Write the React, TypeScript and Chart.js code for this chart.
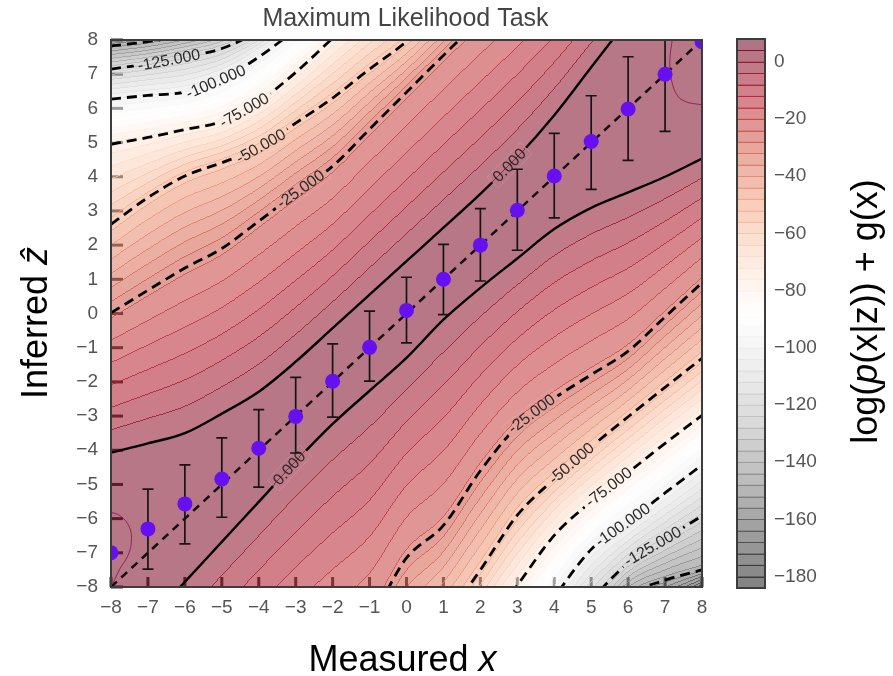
import React, { useEffect, useRef } from 'react';
import { Chart, registerables } from 'chart.js';

Chart.register(...registerables);

const FONT = '"Liberation Sans", Arial, Helvetica, sans-serif';

// ---------- text ----------
const chartTitle = 'Maximum Likelihood Task';
const xTitleParts = [{ t: 'Measured ' }, { t: 'x', it: true }];
const yTitleParts = [{ t: 'Inferred ' }, { t: '\u1E91', it: true }];
const cbTitleParts = [{ t: 'log(' }, { t: 'p', it: true }, { t: '(x|z)) + g(x)' }];

// ---------- axes ----------
const axisTicks = [-8, -7, -6, -5, -4, -3, -2, -1, 0, 1, 2, 3, 4, 5, 6, 7, 8];
const colorbarTicks = [0, -20, -40, -60, -80, -100, -120, -140, -160, -180];
const levelMin = -184;
const levelMax = 8;
const levelStep = 4;
const fillAlpha = 0.55;

// ---------- measurements ----------
const measuredX = [-8, -7, -6, -5, -4, -3, -2, -1, 0, 1, 2, 3, 4, 5, 6, 7, 8];
const inferredZ = [-7.0, -6.3, -5.57, -4.84, -3.94, -3.01, -1.98, -0.99, 0.09, 1.0, 2.0, 3.02, 4.02, 5.03, 5.98, 7.0, 7.95];
const inferredZLow = [null, -7.48, -6.74, -5.96, -5.08, -4.08, -3.03, -1.98, -0.86, -0.03, 0.95, 1.85, 2.8, 3.63, 4.48, 5.33, null];
const inferredZHigh = [null, -5.14, -4.43, -3.64, -2.81, -1.87, -0.89, 0.07, 1.06, 2.02, 3.07, 4.22, 5.27, 6.37, 7.51, 8.7, null];
const identityLine = [-8, 8];

// ---------- contour lines: z of each contour at xGrid ----------
const xGrid = [-8, -7, -6, -5, -4, -3, -2, -1, 0, 1, 2, 3, 4, 5, 6, 7, 8];
const zUpper150 = [7.83, 7.95, 8.15, 8.45, 9.0, 9.6, 10.3, 11.1, 11.9, 12.8, 13.7, 14.6, 15.5, 16.5, 17.5, 18.5, 19.5];
const zUpper125 = [7.15, 7.3, 7.5, 7.75, 8.25, 8.9, 9.6, 10.4, 11.2, 12.1, 13.0, 13.9, 14.8, 15.8, 16.8, 17.8, 18.8];
const zUpper100 = [6.27, 6.38, 6.48, 6.85, 7.5, 8.3, 9.1, 9.9, 10.7, 11.6, 12.5, 13.4, 14.3, 15.3, 16.3, 17.3, 18.3];
const zUpper75 = [4.95, 5.15, 5.38, 5.62, 6.2, 7.05, 8.05, 9.0, 9.9, 10.8, 11.7, 12.6, 13.5, 14.4, 15.3, 16.2, 17.1];
const zUpper50 = [2.61, 3.39, 4.02, 4.41, 4.85, 5.57, 6.3, 7.15, 7.95, 8.9, 9.8, 10.7, 11.6, 12.5, 13.4, 14.3, 15.2];
const zUpper25 = [0.02, 0.68, 1.33, 1.9, 2.7, 3.52, 4.31, 5.39, 6.47, 7.55, 8.6, 9.6, 10.6, 11.6, 12.5, 13.4, 14.3];
const zUpper0 = [-4.07, -3.8, -3.5, -2.93, -2.29, -1.41, -0.43, 0.55, 1.53, 2.51, 3.5, 4.57, 5.8, 7.2, 8.6, 10.0, 11.4];
const zLower0 = [-10.2, -9.0, -7.85, -6.68, -5.51, -4.33, -3.23, -2.26, -1.3, -0.18, 0.75, 1.61, 2.47, 3.09, 3.54, 4.0, 4.53];
const zLower25 = [-16.5, -15.3, -14.1, -12.9, -11.8, -10.8, -9.9, -8.95, -7.15, -6.2, -4.6, -3.3, -2.48, -1.79, -1.1, -0.1, 0.9];
const zLower50 = [-21.6, -20.2, -18.8, -17.4, -16.0, -14.6, -13.2, -11.8, -10.3, -9.0, -7.5, -5.9, -4.84, -3.9, -3.02, -2.16, -1.31];
const zLower75 = [-23.4, -22.0, -20.6, -19.2, -17.8, -16.4, -15.0, -13.6, -12.2, -10.8, -9.4, -7.95, -6.49, -5.5, -4.65, -3.8, -2.98];
const zLower100 = [-25.2, -23.8, -22.4, -21.0, -19.6, -18.2, -16.8, -15.4, -14.0, -12.6, -11.2, -9.8, -8.3, -6.9, -6.08, -5.25, -4.43];
const zLower125 = [-26.6, -25.2, -23.8, -22.4, -21.0, -19.6, -18.2, -16.8, -15.4, -14.0, -12.6, -11.2, -9.8, -8.4, -7.3, -6.6, -5.92];
const zLower150 = [-27.6, -26.2, -24.8, -23.4, -22.0, -20.6, -19.2, -17.8, -16.4, -15.0, -13.6, -12.2, -10.8, -9.4, -8.25, -7.8, -7.5];
const zLower175 = [-29.0, -27.6, -26.2, -24.8, -23.4, -22.0, -20.6, -19.2, -17.8, -16.4, -15.0, -13.6, -12.2, -10.8, -9.5, -8.7, -8.0];

// small closed level-4 contours in two corners
const peakTopRightX = [7.2, 7.13, 7.18, 7.35, 7.6, 7.9, 8.05];
const peakTopRightZ = [8.05, 7.4, 6.8, 6.35, 6.18, 6.12, 6.1];
const peakBottomLeftX = [-8.05, -7.75, -7.5, -7.45, -7.55, -7.75, -7.95];
const peakBottomLeftZ = [-5.8, -5.92, -6.25, -6.7, -7.1, -7.45, -7.9];

const contourLines = [
  { level: -150, z: zUpper150, drawn: true },
  { level: -125, z: zUpper125, drawn: true },
  { level: -100, z: zUpper100, drawn: true },
  { level: -75, z: zUpper75, drawn: true },
  { level: -50, z: zUpper50, drawn: true },
  { level: -25, z: zUpper25, drawn: true },
  { level: 0, z: zUpper0, drawn: true },
  { level: 0, z: zLower0, drawn: true },
  { level: -25, z: zLower25, drawn: true },
  { level: -50, z: zLower50, drawn: true },
  { level: -75, z: zLower75, drawn: true },
  { level: -100, z: zLower100, drawn: true },
  { level: -125, z: zLower125, drawn: true },
  { level: -150, z: zLower150, drawn: true },
  { level: -175, z: zLower175, drawn: false },
];
const contourLabelSpots = [
  { line: 1, x: -6.43 }, { line: 2, x: -5.16 }, { line: 3, x: -4.39 }, { line: 4, x: -3.94 },
  { line: 5, x: -2.86 }, { line: 6, x: 2.79 }, { line: 7, x: -3.17 }, { line: 8, x: 3.39 },
  { line: 9, x: 4.47 }, { line: 10, x: 5.48 }, { line: 11, x: 5.86 }, { line: 12, x: 6.67 },
];

// ---------- colormap (RdGy, reversed) ----------
const rdgy = [
  [103, 0, 31], [178, 24, 43], [214, 96, 77], [244, 165, 130], [253, 219, 199], [255, 255, 255],
  [224, 224, 224], [186, 186, 186], [135, 135, 135], [77, 77, 77], [26, 26, 26],
];
function rdgyAt(f: number) {
  f = Math.max(0, Math.min(1, f));
  const p = f * 10;
  const i = Math.min(9, Math.floor(p));
  const t = p - i;
  return rdgy[i].map((c, j) => c + (rdgy[i + 1][j] - c) * t);
}
function colorOfValue(v: number) {
  return rdgyAt(1 - (v - levelMin) / (levelMax - levelMin));
}
const nBands = Math.round((levelMax - levelMin) / levelStep);

// ---------- monotone cubic (same as Chart.js) ----------
function monotoneCurve(xs: number[], ys: number[]) {
  const n = xs.length;
  const d: number[] = [];
  const m: number[] = [];
  for (let i = 0; i < n - 1; i++) d.push((ys[i + 1] - ys[i]) / (xs[i + 1] - xs[i]));
  for (let i = 0; i < n; i++) {
    if (i === 0) m.push(d[0]);
    else if (i === n - 1) m.push(d[n - 2]);
    else m.push(Math.sign(d[i - 1]) !== Math.sign(d[i]) ? 0 : (d[i - 1] + d[i]) / 2);
  }
  for (let i = 0; i < n - 1; i++) {
    if (Math.abs(d[i]) < 1e-9) { m[i] = 0; m[i + 1] = 0; continue; }
    const a = m[i] / d[i];
    const b = m[i + 1] / d[i];
    const s = a * a + b * b;
    if (s <= 9) continue;
    const tau = 3 / Math.sqrt(s);
    m[i] = a * tau * d[i];
    m[i + 1] = b * tau * d[i];
  }
  return (x: number) => {
    let i = 0;
    if (x >= xs[n - 1]) i = n - 2;
    else if (x > xs[0]) { while (x > xs[i + 1]) i++; }
    const h = xs[i + 1] - xs[i];
    const t = (x - xs[i]) / h;
    const t2 = t * t, t3 = t2 * t;
    return (2 * t3 - 3 * t2 + 1) * ys[i] + (t3 - 2 * t2 + t) * h * m[i] + (-2 * t3 + 3 * t2) * ys[i + 1] + (t3 - t2) * h * m[i + 1];
  };
}
const curves = contourLines.map((l) => monotoneCurve(xGrid, l.z));

function fmtTick(v: number | string) {
  const n = Number(v);
  return n < 0 ? '\u2212' + Math.abs(n) : String(n);
}

function buildField(chart: any) {
  const a = chart.chartArea;
  const w = Math.round(a.right - a.left);
  const h = Math.round(a.bottom - a.top);
  const xs = chart.scales.x, ys = chart.scales.y;
  const nL = contourLines.length;
  const lev = contourLines.map((l) => l.level);
  const colY = new Float64Array(nL);
  const band = new Int16Array(w * h);
  const yVals = new Float64Array(h);
  for (let j = 0; j < h; j++) yVals[j] = ys.getValueForPixel(a.top + j + 0.5);
  for (let i = 0; i < w; i++) {
    const xv = xs.getValueForPixel(a.left + i + 0.5);
    for (let k = 0; k < nL; k++) colY[k] = curves[k](xv);
    for (let j = 0; j < h; j++) {
      const yv = yVals[j];
      let v: number;
      if (yv >= colY[0]) {
        v = lev[0] + (lev[0] - lev[1]) * (yv - colY[0]) / Math.max(0.05, colY[0] - colY[1]);
      } else if (yv <= colY[nL - 1]) {
        v = lev[nL - 1] + (lev[nL - 1] - lev[nL - 2]) * (colY[nL - 1] - yv) / Math.max(0.05, colY[nL - 2] - colY[nL - 1]);
      } else {
        let k = 0;
        while (k < nL - 2 && yv < colY[k + 1]) k++;
        const dy = colY[k] - colY[k + 1];
        v = dy > 1e-9 ? lev[k] + (lev[k + 1] - lev[k]) * (colY[k] - yv) / dy : lev[k];
      }
      v = Math.max(levelMin, Math.min(levelMax, v));
      band[j * w + i] = Math.min(nBands - 1, Math.max(0, Math.floor((v - levelMin) / levelStep)));
    }
  }
  const bandCol = [];
  for (let b = 0; b < nBands; b++) bandCol.push(colorOfValue(levelMin + (b + 0.5) * levelStep));
  const edgeCol = [];
  for (let e = 0; e <= nBands; e++) edgeCol.push(colorOfValue(levelMin + e * levelStep));
  const cv = document.createElement('canvas');
  cv.width = w; cv.height = h;
  const c2 = cv.getContext('2d')!;
  const img = c2.createImageData(w, h);
  const data = img.data;
  const fillA = Math.round(fillAlpha * 255);
  for (let j = 0; j < h; j++) {
    for (let i = 0; i < w; i++) {
      const idx = j * w + i;
      const b = band[idx];
      let line = -1;
      if (i + 1 < w && band[idx + 1] !== b) line = Math.max(b, band[idx + 1]);
      if (j + 1 < h && band[idx + w] !== b) line = Math.max(line, b, band[idx + w]);
      const col = line >= 0 ? edgeCol[line] : bandCol[b];
      const o = idx * 4;
      data[o] = col[0]; data[o + 1] = col[1]; data[o + 2] = col[2];
      data[o + 3] = line >= 0 ? 225 : fillA;
    }
  }
  c2.putImageData(img, 0, 0);
  return cv;
}

function drawMixed(ctx: CanvasRenderingContext2D, parts: { t: string; it?: boolean }[], size: number, cx: number, baseY: number, color: string) {
  const fonts = parts.map((p) => `${p.it ? 'italic ' : ''}${size}px ${FONT}`);
  let total = 0;
  const widths = parts.map((p, i) => { ctx.font = fonts[i]; const w = ctx.measureText(p.t).width; total += w; return w; });
  let x = cx - total / 2;
  ctx.textAlign = 'left';
  ctx.textBaseline = 'alphabetic';
  ctx.fillStyle = color;
  parts.forEach((p, i) => { ctx.font = fonts[i]; ctx.fillText(p.t, x, baseY); x += widths[i]; });
}

const mainPlugin = {
  id: 'mainDecor',
  beforeDatasetsDraw(chart: any) {
    const ctx = chart.ctx;
    const a = chart.chartArea;
    ctx.save();
    ctx.fillStyle = '#ffffff';
    ctx.fillRect(a.left, a.top, a.right - a.left, a.bottom - a.top);
    ctx.fillStyle = '#333333';
    axisTicks.forEach((v) => {
      const px = chart.scales.x.getPixelForValue(v);
      ctx.fillRect(px - 1.5, a.bottom - 10, 3, 10);
      const py = chart.scales.y.getPixelForValue(v);
      ctx.fillRect(a.left, py - 1.5, 12, 3);
    });
    if (!chart.$field) chart.$field = buildField(chart);
    ctx.drawImage(chart.$field, a.left, a.top);
    ctx.restore();
  },
  beforeDatasetDraw(chart: any, args: any) {
    const ds = chart.data.datasets[args.index];
    const ctx = chart.ctx;
    const a = chart.chartArea;
    const xs = chart.scales.x, ys = chart.scales.y;
    if (ds.label === 'identity') {
      const kx = xs.getPixelForValue(1) - xs.getPixelForValue(0);
      const ky = ys.getPixelForValue(0) - ys.getPixelForValue(1);
      ctx.save();
      contourLabelSpots.forEach((s) => {
        const f = curves[s.line];
        const yv = f(s.x);
        const slope = (f(s.x + 0.01) - f(s.x - 0.01)) / 0.02;
        const ang = Math.atan2(-slope * ky, kx);
        const px = xs.getPixelForValue(s.x);
        const py = ys.getPixelForValue(yv);
        const text = contourLines[s.line].level.toFixed(3);
        ctx.font = `16px ${FONT}`;
        const tw = ctx.measureText(text).width + 8;
        const hh = 8;
        const c = Math.cos(ang), sn = Math.sin(ang);
        const corner = (u: number, v: number) => [px + u * c - v * sn, py + u * sn + v * c];
        ctx.save();
        ctx.beginPath();
        ctx.rect(a.left, a.top, a.right - a.left, a.bottom - a.top);
        ctx.clip();
        ctx.beginPath();
        const pts = [corner(-tw / 2, -hh), corner(tw / 2, -hh), corner(tw / 2, hh), corner(-tw / 2, hh)];
        ctx.moveTo(pts[0][0], pts[0][1]);
        for (let i = 1; i < 4; i++) ctx.lineTo(pts[i][0], pts[i][1]);
        ctx.closePath();
        ctx.clip();
        ctx.fillStyle = '#ffffff';
        ctx.fillRect(a.left, a.top, a.right - a.left, a.bottom - a.top);
        ctx.drawImage(chart.$field, a.left, a.top);
        ctx.restore();
        ctx.save();
        ctx.translate(px, py);
        ctx.rotate(ang);
        ctx.fillStyle = '#2a2a2a';
        ctx.textAlign = 'center';
        ctx.textBaseline = 'middle';
        ctx.font = `16px ${FONT}`;
        ctx.fillText(text, 0, 0.5);
        ctx.restore();
      });
      ctx.restore();
    }
    if (ds.label === 'measured') {
      ctx.save();
      ctx.beginPath();
      ctx.rect(a.left, a.top, a.right - a.left, a.bottom - a.top);
      ctx.clip();
      ctx.strokeStyle = '#151515';
      ctx.lineWidth = 1.7;
      measuredX.forEach((xv, i) => {
        const lo = inferredZLow[i], hi = inferredZHigh[i];
        if (lo === null || hi === null) return;
        const px = xs.getPixelForValue(xv);
        const p1 = ys.getPixelForValue(lo), p2 = ys.getPixelForValue(hi);
        ctx.beginPath();
        ctx.moveTo(px, p1); ctx.lineTo(px, p2);
        ctx.moveTo(px - 5.5, p1); ctx.lineTo(px + 5.5, p1);
        ctx.moveTo(px - 5.5, p2); ctx.lineTo(px + 5.5, p2);
        ctx.stroke();
      });
      ctx.restore();
    }
  },
  afterDraw(chart: any) {
    const ctx = chart.ctx;
    const a = chart.chartArea;
    ctx.save();
    ctx.strokeStyle = '#3c3c3c';
    ctx.lineWidth = 2;
    ctx.strokeRect(a.left, a.top, a.right - a.left, a.bottom - a.top);
    ctx.font = `25px ${FONT}`;
    ctx.fillStyle = '#444444';
    ctx.textAlign = 'center';
    ctx.textBaseline = 'alphabetic';
    ctx.fillText(chartTitle, (a.left + a.right) / 2 - 1, 26);
    drawMixed(ctx, xTitleParts, 36, (a.left + a.right) / 2 - 4, 671, '#000000');
    ctx.translate(47, 323);
    ctx.rotate(-Math.PI / 2);
    drawMixed(ctx, yTitleParts, 36, 0, 0, '#000000');
    ctx.restore();
  },
};

const cbPlugin = {
  id: 'cbDecor',
  afterDatasetsDraw(chart: any) {
    const ctx = chart.ctx;
    const a = chart.chartArea;
    const ys = chart.scales.y;
    ctx.save();
    for (let e = 1; e < nBands; e++) {
      const v = levelMin + e * levelStep;
      const py = Math.round(ys.getPixelForValue(v)) + 0.5;
      const c = colorOfValue(v);
      ctx.strokeStyle = `rgba(${Math.round(c[0])},${Math.round(c[1])},${Math.round(c[2])},0.8)`;
      ctx.lineWidth = 1;
      ctx.beginPath();
      ctx.moveTo(a.left, py); ctx.lineTo(a.right, py);
      ctx.stroke();
    }
    ctx.strokeStyle = '#3c3c3c';
    ctx.lineWidth = 2;
    ctx.strokeRect(a.left, a.top, a.right - a.left, a.bottom - a.top);
    ctx.restore();
  },
  afterDraw(chart: any) {
    const ctx = chart.ctx;
    ctx.save();
    ctx.translate(177, 311.5);
    ctx.rotate(-Math.PI / 2);
    drawMixed(ctx, cbTitleParts, 36, 0, 0, '#000000');
    ctx.restore();
  },
};

export default function App() {
  const mainRef = useRef<HTMLCanvasElement>(null);
  const cbRef = useRef<HTMLCanvasElement>(null);

  useEffect(() => {
    const tickFont = { family: FONT, size: 19 };
    const contourDatasets = contourLines
      .filter((l) => l.drawn)
      .map((l) => ({
        type: 'line' as const,
        label: 'contour ' + l.level,
        data: xGrid.map((x, i) => ({ x, y: l.z[i] })),
        borderColor: '#000000',
        borderWidth: l.level < 0 ? 2.8 : 2.4,
        borderDash: l.level < 0 ? [10, 6] : [],
        pointRadius: 0,
        fill: false,
        cubicInterpolationMode: 'monotone' as const,
        order: 10,
      }));
    const peakDatasets = [
      { xs: peakTopRightX, zs: peakTopRightZ },
      { xs: peakBottomLeftX, zs: peakBottomLeftZ },
    ].map((p, k) => ({
      type: 'line' as const,
      label: 'peak ' + k,
      data: p.xs.map((x, i) => ({ x, y: p.zs[i] })),
      borderColor: 'rgba(140,20,85,0.85)',
      borderWidth: 1,
      pointRadius: 0,
      fill: false,
      tension: 0.4,
      order: 11,
    }));
    const main = new Chart(mainRef.current!, {
      type: 'scatter',
      data: {
        datasets: [
          ...peakDatasets,
          ...contourDatasets,
          {
            type: 'line',
            label: 'identity',
            data: identityLine.map((v) => ({ x: v, y: v })),
            borderColor: '#111111',
            borderWidth: 2.5,
            borderDash: [8, 6],
            pointRadius: 0,
            fill: false,
            order: 2,
          },
          {
            type: 'scatter',
            label: 'measured',
            data: measuredX.map((x, i) => ({ x, y: inferredZ[i] })),
            backgroundColor: '#6610f2',
            borderWidth: 0,
            pointRadius: 7.5,
            order: 1,
          },
        ] as any,
      },
      options: {
        responsive: false,
        animation: false,
        devicePixelRatio: 1,
        events: [],
        layout: { padding: { left: 0, top: 40, right: 191, bottom: 0 } },
        elements: { line: { capBezierPoints: false } },
        plugins: { legend: { display: false }, tooltip: { enabled: false }, title: { display: false } },
        scales: {
          x: {
            type: 'linear', min: -8, max: 8,
            grid: { display: false }, border: { display: false },
            afterBuildTicks: (s: any) => { s.ticks = axisTicks.map((v) => ({ value: v })); },
            afterFit: (s: any) => { s.height = 89; },
            ticks: { autoSkip: false, maxRotation: 0, padding: 1, color: '#555555', font: tickFont, callback: fmtTick },
          },
          y: {
            type: 'linear', min: -8, max: 8,
            grid: { display: false }, border: { display: false },
            afterBuildTicks: (s: any) => { s.ticks = axisTicks.map((v) => ({ value: v })); },
            afterFit: (s: any) => { s.width = 111; },
            ticks: { autoSkip: false, padding: 5, color: '#555555', font: tickFont, callback: fmtTick },
          },
        },
      } as any,
      plugins: [mainPlugin],
    });

    const bandDatasets = [];
    for (let b = 0; b < nBands; b++) {
      const lo = levelMin + b * levelStep;
      const c = colorOfValue(lo + levelStep / 2);
      bandDatasets.push({
        label: 'band ' + b,
        data: [[lo, lo + levelStep]],
        backgroundColor: `rgba(${Math.round(c[0])},${Math.round(c[1])},${Math.round(c[2])},${fillAlpha})`,
        borderWidth: 0,
        grouped: false,
        barPercentage: 1,
        categoryPercentage: 1,
      });
    }
    const cb = new Chart(cbRef.current!, {
      type: 'bar',
      data: { labels: [''], datasets: bandDatasets as any },
      options: {
        responsive: false,
        animation: false,
        devicePixelRatio: 1,
        events: [],
        layout: { padding: { left: 37, top: 39, right: 0, bottom: 88 } },
        plugins: { legend: { display: false }, tooltip: { enabled: false } },
        scales: {
          x: { display: false },
          y: {
            position: 'right', min: levelMin, max: levelMax,
            grid: { display: false }, border: { display: false },
            afterBuildTicks: (s: any) => { s.ticks = colorbarTicks.map((v) => ({ value: v })); },
            afterFit: (s: any) => { s.width = 128; },
            ticks: { padding: 1, color: '#555555', font: tickFont, callback: fmtTick },
          },
        },
      } as any,
      plugins: [cbPlugin],
    });

    return () => { main.destroy(); cb.destroy(); };
  }, []);

  return (
    <div style={{ position: 'absolute', left: 0, top: 0, width: 893, height: 676, background: '#ffffff' }}>
      <canvas ref={mainRef} width={893} height={676} style={{ position: 'absolute', left: 0, top: 0, width: 893, height: 676 }} />
      <canvas ref={cbRef} width={193} height={676} style={{ position: 'absolute', left: 700, top: 0, width: 193, height: 676 }} />
    </div>
  );
}
